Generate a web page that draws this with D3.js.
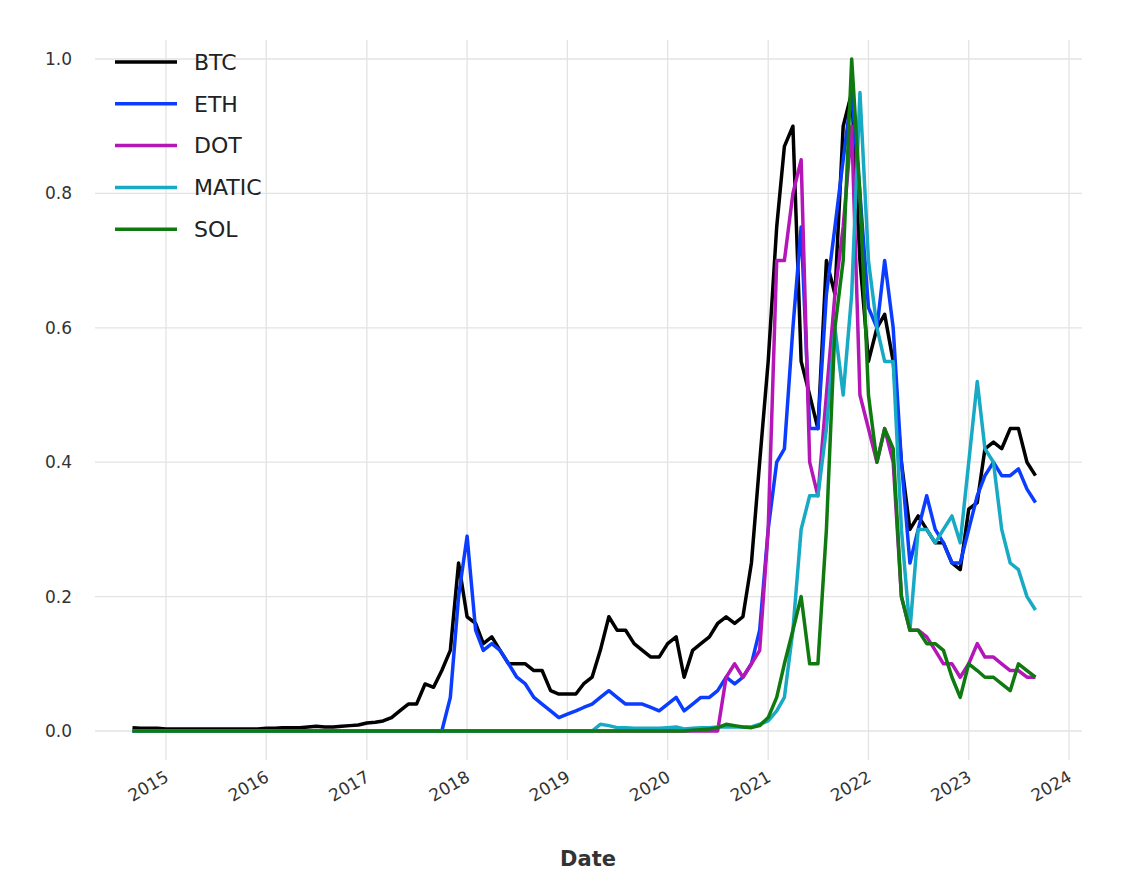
<!DOCTYPE html>
<html><head><meta charset="utf-8">
<script src="https://cdn.jsdelivr.net/npm/d3@7"></script>
<style>body{margin:0;background:#fff}</style>
</head><body>
<svg id="c" width="1132" height="884"></svg>
<script>
const startMonth = "2014-09-01";
const yTicks = [0,0.2,0.4,0.6,0.8,1.0];
const xTickYears = [2015,2016,2017,2018,2019,2020,2021,2022,2023,2024];
const seriesNames = ["BTC","ETH","DOT","MATIC","SOL"];
const seriesColors = ["#000000","#0a3dff","#b416b8","#18a9c4","#0f7a10"];
const BTC = [.005,.004,.004,.004,
 .003,.003,.003,.003,.003,.003,.003,.003,.003,.003,.003,.003,
 .004,.004,.005,.005,.005,.006,.007,.006,.006,.007,.008,.009,
 .012,.013,.015,.02,.03,.04,.04,.07,.065,.09,.12,.25,
 .17,.16,.13,.14,.12,.1,.1,.1,.09,.09,.06,.055,
 .055,.055,.07,.08,.12,.17,.15,.15,.13,.12,.11,.11,
 .13,.14,.08,.12,.13,.14,.16,.17,.16,.17,.25,.4,
 .55,.75,.87,.9,.55,.5,.45,.7,.65,.9,.95,.7,
 .55,.6,.62,.55,.4,.3,.32,.3,.28,.28,.25,.24,
 .33,.34,.42,.43,.42,.45,.45,.4,.38];
const ETH = [0,0,0,0, 0,0,0,0,0,0,0,0,0,0,0,0, 0,0,0,0,0,0,0,0,0,0,0,0, 0,0,0,0,0,0,0,0,0,0,.05,.2,
 .29,.15,.12,.13,.12,.1,.08,.07,.05,.04,.03,.02,
 .025,.03,.035,.04,.05,.06,.05,.04,.04,.04,.035,.03,
 .04,.05,.03,.04,.05,.05,.06,.08,.07,.08,.1,.15,
 .3,.4,.42,.6,.75,.45,.45,.65,.75,.85,.95,.8,
 .63,.6,.7,.6,.4,.25,.3,.35,.3,.28,.25,.25,
 .3,.35,.38,.4,.38,.38,.39,.36,.34];
const DOT = [0,0,0,0, 0,0,0,0,0,0,0,0,0,0,0,0, 0,0,0,0,0,0,0,0,0,0,0,0, 0,0,0,0,0,0,0,0,0,0,0,0,
 0,0,0,0,0,0,0,0,0,0,0,0, 0,0,0,0,0,0,0,0,0,0,0,0,
 0,0,0,0,0,0,0,.08,.1,.08,.1,.12,
 .3,.7,.7,.8,.85,.4,.35,.5,.65,.75,.9,.5,
 .45,.4,.45,.4,.2,.15,.15,.14,.12,.1,.1,.08,
 .1,.13,.11,.11,.1,.09,.09,.08,.08];
const MATIC = [0,0,0,0, 0,0,0,0,0,0,0,0,0,0,0,0, 0,0,0,0,0,0,0,0,0,0,0,0, 0,0,0,0,0,0,0,0,0,0,0,0,
 0,0,0,0,0,0,0,0,0,0,0,0,
 0,0,0,0,.01,.008,.005,.005,.004,.004,.004,.004,
 .005,.006,.003,.004,.005,.005,.006,.006,.006,.006,.006,.01,
 .015,.03,.05,.15,.3,.35,.35,.45,.6,.5,.65,.95,
 .7,.6,.55,.55,.3,.15,.3,.3,.28,.3,.32,.28,
 .4,.52,.42,.4,.3,.25,.24,.2,.18];
const SOL = [0,0,0,0, 0,0,0,0,0,0,0,0,0,0,0,0, 0,0,0,0,0,0,0,0,0,0,0,0, 0,0,0,0,0,0,0,0,0,0,0,0,
 0,0,0,0,0,0,0,0,0,0,0,0, 0,0,0,0,0,0,0,0,0,0,0,0,
 0,0,0,.001,.002,.003,.005,.01,.008,.006,.005,.008,
 .02,.05,.1,.15,.2,.1,.1,.3,.6,.7,1.0,.8,
 .5,.4,.45,.42,.2,.15,.15,.13,.13,.12,.08,.05,
 .1,.09,.08,.08,.07,.06,.1,.09,.08];
const seriesValues = [BTC,ETH,DOT,MATIC,SOL];

const svg = d3.select("#c");
const L=95,R=1082,T=40,B=760;
const t0 = new Date(startMonth);
const dates = BTC.map((_,i)=>d3.timeMonth.offset(t0,i));
const x = d3.scaleTime().domain([new Date(2015,0,1), new Date(2024,0,1)]).range([166,1069]);
const y = d3.scaleLinear().domain([0,1]).range([731,59]);
const g = svg.append("g");
g.selectAll(".gx").data(xTickYears).join("line")
 .attr("x1",d=>x(new Date(d,0,1))).attr("x2",d=>x(new Date(d,0,1)))
 .attr("y1",T).attr("y2",B).attr("stroke","#e3e3e3").attr("stroke-width",1.3);
g.selectAll(".gy").data(yTicks).join("line")
 .attr("x1",L).attr("x2",R).attr("y1",d=>y(d)).attr("y2",d=>y(d))
 .attr("stroke","#e3e3e3").attr("stroke-width",1.3);
g.selectAll(".yt").data(yTicks).join("text")
 .attr("x",72).attr("y",d=>y(d)).attr("dy","0.35em").attr("text-anchor","end")
 .attr("font-family","DejaVu Sans").attr("font-size",17).attr("fill","#333")
 .text(d=>d.toFixed(1));
g.selectAll(".xt").data(xTickYears).join("text")
 .attr("transform",d=>`translate(${x(new Date(d,0,1))-2},${B+10}) rotate(-30)`)
 .attr("text-anchor","end").attr("dy","0.7em")
 .attr("font-family","DejaVu Sans").attr("font-size",17).attr("fill","#333")
 .text(d=>d);
svg.append("text").attr("x",588).attr("y",866).attr("text-anchor","middle")
 .attr("font-family","DejaVu Sans").attr("font-weight","bold").attr("font-size",21).attr("fill","#333").text("Date");
const line = d3.line().x((d,i)=>x(dates[i])).y(d=>y(d));
seriesValues.forEach((vals,k)=>{
 svg.append("path").datum(vals).attr("d",line).attr("fill","none")
  .attr("stroke",seriesColors[k]).attr("stroke-width",3.5).attr("stroke-linejoin","round");
});
seriesNames.forEach((n,k)=>{
 const yy = 62 + k*41.8;
 svg.append("line").attr("x1",115).attr("x2",177).attr("y1",yy).attr("y2",yy)
  .attr("stroke",seriesColors[k]).attr("stroke-width",3.5);
 svg.append("text").attr("x",194).attr("y",yy).attr("dy","0.35em")
  .attr("font-family","DejaVu Sans").attr("font-size",22).attr("fill","#222").text(n);
});
</script>
</body></html>
